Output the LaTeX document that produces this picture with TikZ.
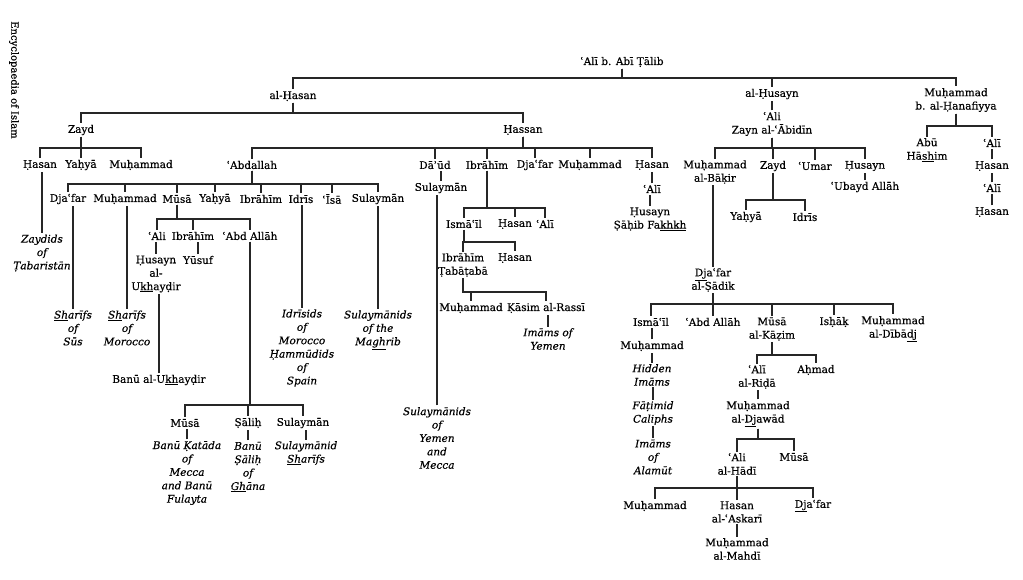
\documentclass[tikz,border=0pt]{standalone}
\usepackage{fontspec}
\setmainfont{DejaVu Serif}[FakeBold=0.4]
\usepackage{tikz}
\usetikzlibrary{positioning}

% bar of brothers under one father, and one son under his father
\newcommand\kin[3]{%
  \coordinate (bar) at (0,#2);
  \foreach \kid in {#3}{\draw[link] (#1.south) |- (\kid.north |- bar) -- (\kid.north);}}
\newcommand\desc[2]{\draw[link] (#2.north) -- (#2.north |- #1.south);}

\begin{document}
\begin{tikzpicture}[
  x=1pt, y=-1pt,
  every node/.style={inner sep=1.5pt, align=center, font=\fontsize{10.5}{13.4}\selectfont},
  nm/.style={},
  dyn/.style={font=\fontsize{10.5}{13.4}\selectfont\itshape},
  link/.style={line width=1.6pt, draw=black!85},
  src/.style={rotate=-90, font=\fontsize{10}{11}\selectfont},
]
\fill[white] (0,0) rectangle (1023,579);
\useasboundingbox (0,0) rectangle (1023,579);

\node[src] at (14,80) (title) {Encyclopaedia of Islam};

%% -- First generations ---------------------------------------
\node[nm] at (622,62)  (ali)    {ʿAlī b. Abī Ṭālib};
\node[nm] at (293,96)  (hasanI) {al-Ḥasan};
\node[nm] at (772,94)  (husayn) {al-Ḥusayn};
\node[nm] at (956,100) (hanaf)  {Muḥammad\\b. al-Ḥanafiyya};
\kin{ali}{78}{hasanI,husayn,hanaf}

\node[nm] at (81,130)  (zayd)   {Zayd};
\node[nm] at (523,130) (hassan) {Ḥassan};
\kin{hasanI}{113}{zayd,hassan}

%% -- Line of Zayd --------------------------------------------
\node[nm] at (40,165)  (zhasan) {Ḥasan};
\node[nm] at (81,165)  (zyahya) {Yaḥyā};
\node[nm] at (141,165) (zmuh)   {Muḥammad};
\kin{zayd}{148}{zhasan,zyahya,zmuh}
\node[dyn] at (42,253) (zaydids) {Zaydids\\of\\Ṭabaristān};
\desc{zhasan}{zaydids}

%% -- Line of Hassan ------------------------------------------
\node[nm] at (252,165) (abdallah) {ʿAbdallah};
\node[nm] at (435,165) (daud)     {Dāʾūd};
\node[nm] at (487,165) (ibrahim)  {Ibrāhīm};
\node[nm] at (535,165) (hjafar)   {Djaʿfar};
\node[nm] at (590,165) (hmuh)     {Muḥammad};
\node[nm] at (652,165) (hhasan)   {Ḥasan};
\kin{hassan}{148}{abdallah,daud,ibrahim,hjafar,hmuh,hhasan}

\node[nm] at (441,188) (sulaymanH) {Sulaymān};
\desc{daud}{sulaymanH}
\node[dyn] at (437,438) (sulyemen) {Sulaymānids\\of\\Yemen\\and\\Mecca};
\desc{sulaymanH}{sulyemen}

\node[nm] at (464,224) (ismail) {Ismāʿīl};
\node[nm] at (515,224) (ihasan) {Ḥasan};
\node[nm] at (545,224) (iali)   {ʿAlī};
\kin{ibrahim}{208}{ismail,ihasan,iali}
\node[nm] at (463,265) (tabataba) {Ibrāhīm\\Ṭabāṭabā};
\node[nm] at (515,258) (ihasan2)  {Ḥasan};
\kin{ismail}{242}{tabataba,ihasan2}
\node[nm] at (471,308) (tmuh)  {Muḥammad};
\node[nm] at (546,308) (kasim) {Ḳāsim al-Rassī};
\kin{tabataba}{292}{tmuh,kasim}
\node[dyn] at (548,339) (imamsY) {Imāms of\\Yemen};
\desc{kasim}{imamsY}

\node[nm] at (652,189) (hali)   {ʿAlī};
\desc{hhasan}{hali}
\node[nm] at (650,219) (fakhkh) {Ḥusayn\\Ṣāḥib Fa\underline{kh}\underline{kh}};
\desc{hali}{fakhkh}

%% -- Sons of Abdallah ----------------------------------------
\node[nm] at (68,199)  (ajafar)    {Djaʿfar};
\node[nm] at (125,199) (amuh)      {Muḥammad};
\node[nm] at (177,199) (amusa)     {Mūsā};
\node[nm] at (215,199) (ayahya)    {Yaḥyā};
\node[nm] at (261,199) (aibrahim)  {Ibrāhīm};
\node[nm] at (301,199) (aidris)    {Idrīs};
\node[nm] at (332,199) (aisa)      {ʿĪsā};
\node[nm] at (378,199) (asulayman) {Sulaymān};
\kin{abdallah}{184}{ajafar,amuh,amusa,ayahya,aibrahim,aidris,aisa,asulayman}

\node[dyn] at (73,328)  (sus)     {\underline{Sh}arīfs\\of\\Sūs};
\desc{ajafar}{sus}
\node[dyn] at (127,328) (morocco) {\underline{Sh}arīfs\\of\\Morocco};
\desc{amuh}{morocco}
\node[dyn] at (302,348) (idrisids) {Idrīsids\\of\\Morocco\\Ḥammūdids\\of\\Spain};
\desc{aidris}{idrisids}
\node[dyn] at (378,330) (maghrib) {Sulaymānids\\of the\\Ma\underline{gh}rib};
\desc{asulayman}{maghrib}

\node[nm] at (157,236) (mali)     {ʿAli};
\node[nm] at (193,236) (mibrahim) {Ibrāhīm};
\node[nm] at (250,236) (mabd)     {ʿAbd Allāh};
\kin{amusa}{219}{mali,mibrahim,mabd}
\node[nm] at (156,274) (ukhaydir) {Ḥusayn\\al-\\U\underline{kh}ayḍir};
\desc{mali}{ukhaydir}
\node[nm] at (198,260) (yusuf) {Yūsuf};
\desc{mibrahim}{yusuf}
\node[nm] at (159,380) (banuukh) {Banū al-U\underline{kh}ayḍir};
\desc{ukhaydir}{banuukh}

\node[nm] at (185,423) (bmusa)     {Mūsā};
\node[nm] at (248,423) (bsalih)    {Ṣāliḥ};
\node[nm] at (303,423) (bsulayman) {Sulaymān};
\kin{mabd}{405}{bmusa,bsalih,bsulayman}
\node[dyn] at (187,473) (katada)    {Banū Ḳatāda\\of\\Mecca\\and Banū\\Fulayta};
\desc{bmusa}{katada}
\node[dyn] at (248,467) (banusalih) {Banū\\Ṣāliḥ\\of\\\underline{Gh}āna};
\desc{bsalih}{banusalih}
\node[dyn] at (306,453) (sulsharifs) {Sulaymānid\\\underline{Sh}arīfs};
\desc{bsulayman}{sulsharifs}

%% -- Line of al-Husayn ---------------------------------------
\node[nm] at (772,124) (zaynali) {ʿAli\\Zayn al-ʿĀbidīn};
\desc{husayn}{zaynali}
\node[nm] at (715,172) (bakir)   {Muḥammad\\al-Bāḳir};
\node[nm] at (773,166) (zzayd)   {Zayd};
\node[nm] at (815,166) (umar)    {ʿUmar};
\node[nm] at (865,166) (zhusayn) {Ḥusayn};
\kin{zaynali}{148}{bakir,zzayd,umar,zhusayn}
\node[nm] at (746,217) (zzyahya) {Yaḥyā};
\node[nm] at (805,217) (zzidris) {Idrīs};
\kin{zzayd}{200}{zzyahya,zzidris}
\node[nm] at (865,187) (ubayd) {ʿUbayd Allāh};
\desc{zhusayn}{ubayd}

\node[nm] at (713,280) (sadik) {\underline{Dj}aʿfar\\al-Ṣādik};
\desc{bakir}{sadik}
\node[nm] at (651,322) (sismail) {Ismāʿīl};
\node[nm] at (713,322) (sabd)    {ʿAbd Allāh};
\node[nm] at (772,329) (kazim)   {Mūsā\\al-Kāẓim};
\node[nm] at (834,322) (ishak)   {Isḥāḳ};
\node[nm] at (893,329) (dibadj)  {Muḥammad\\al-Dībā\underline{dj}};
\kin{sadik}{304}{sismail,sabd,kazim,ishak,dibadj}

\node[nm]  at (652,346) (smuh)    {Muḥammad};
\desc{sismail}{smuh}
\node[dyn] at (652,375) (hidden)  {Hidden\\Imāms};
\desc{smuh}{hidden}
\node[dyn] at (653,413) (fatimid) {Fāṭimid\\Caliphs};
\desc{hidden}{fatimid}
\node[dyn] at (653,457) (alamut)  {Imāms\\of\\Alamūt};
\desc{fatimid}{alamut}

\node[nm] at (757,377) (rida)  {ʿAlī\\al-Riḍā};
\node[nm] at (816,370) (ahmad) {Aḥmad};
\kin{kazim}{355}{rida,ahmad}
\node[nm] at (758,414) (djawad) {Muḥammad\\al-\underline{Dj}awād};
\desc{rida}{djawad}
\node[nm] at (737,464) (hadi)  {ʿAli\\al-Hādī};
\node[nm] at (794,457) (kmusa) {Mūsā};
\kin{djawad}{439}{hadi,kmusa}
\node[nm] at (655,506) (hmuh2)   {Muḥammad};
\node[nm] at (737,512) (askari)  {Hasan\\al-ʿAskarī};
\node[nm] at (813,506) (djafar2) {\underline{Dj}aʿfar};
\kin{hadi}{488}{hmuh2,askari,djafar2}
\node[nm] at (737,549) (mahdi) {Muḥammad\\al-Mahdī};
\desc{askari}{mahdi}

%% -- Line of Ibn al-Hanafiyya --------------------------------
\node[nm] at (927,150) (abuhashim) {Abū\\Hā\underline{sh}im};
\node[nm] at (992,143) (hali1)     {ʿAlī};
\kin{hanaf}{126}{abuhashim,hali1}
\node[nm] at (992,166) (hhasan1) {Ḥasan};
\desc{hali1}{hhasan1}
\node[nm] at (992,188) (hali2)   {ʿAlī};
\desc{hhasan1}{hali2}
\node[nm] at (992,212) (hhasan2) {Ḥasan};
\desc{hali2}{hhasan2}

\end{tikzpicture}
\end{document}
